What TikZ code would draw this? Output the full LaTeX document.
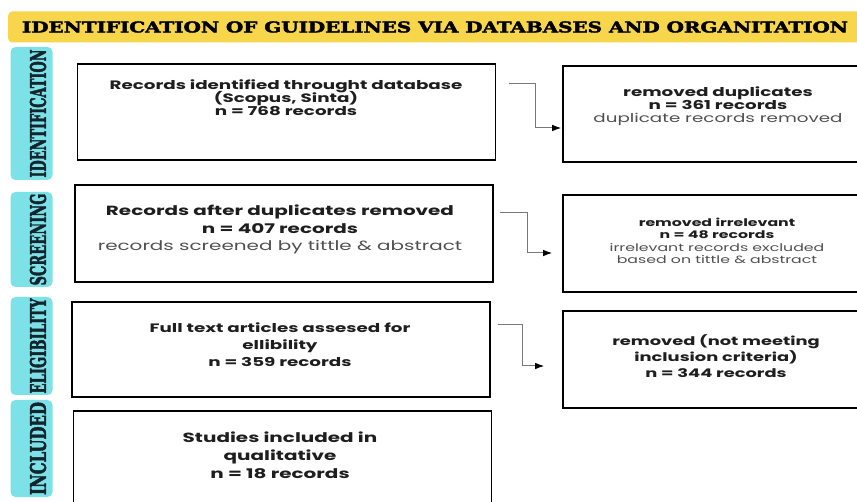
\documentclass[tikz,border=0pt]{standalone}
\usepackage{fontspec}
\usepackage{graphicx}
\usetikzlibrary{arrows.meta, calc}
\newfontfamily\boxfont[FakeStretch=1.5]{Poppins}
\newfontfamily\headfont[BoldFeatures={FakeBold=2.5}]{DejaVu Serif}
\definecolor{bannergold}{RGB}{248,214,76}
\definecolor{tabcyan}{RGB}{125,226,232}
\definecolor{inkdark}{RGB}{30,30,30}
\definecolor{inkgray}{RGB}{80,80,80}
\definecolor{tabink}{RGB}{20,36,44}
\definecolor{linkgray}{RGB}{120,120,120}
\newcommand{\plainline}[1]{{\mdseries\color{inkgray}#1}}
\newcommand{\tightlines}{\setlength{\lineskiplimit}{-20pt}}

\begin{document}
\begin{tikzpicture}[x=1pt, y=-1pt,
  stagebox/.style={draw=black, line width=1.6pt, minimum width=418pt, inner sep=0pt},
  sidebox/.style={draw=black, line width=1.6pt, minimum width=312pt, inner sep=0pt},
  phasetab/.style={fill=tabcyan, rounded corners=5pt, minimum width=42pt, inner sep=0pt},
  tabtxt/.style={text=tabink, rotate=90, inner sep=0pt},
  boxtxt/.style 2 args={font=\boxfont\bfseries\fontsize{#1}{#2}\selectfont\tightlines, text=inkdark, align=center, inner sep=0pt},
  flowlink/.style={draw=linkgray, line width=1pt, -{Latex[color=black, length=9pt, width=6.5pt]}}]

\useasboundingbox (0,0) rectangle (857,502);
\fill[white] (0,0) rectangle (857,502);

% banner
\node[fill=bannergold, rounded corners=4pt, minimum width=880pt, minimum height=31pt, anchor=west] (banner) at (8,27) {};
\node[text=black, inner sep=0pt] (bannertxt) at (435,27)
  {\resizebox{826pt}{11pt}{\headfont\bfseries IDENTIFICATION OF GUIDELINES VIA DATABASES AND ORGANITATION}};

% phase tabs
\node[phasetab, minimum height=133pt] (tabident) at (31.5,113.5) {};
\node[tabtxt] (tabidenttxt) at (38,113.5) {\resizebox{128pt}{16pt}{\headfont\bfseries IDENTIFICATION}};
\node[phasetab, minimum height=95pt] (tabscreen) at (31.5,239.5) {};
\node[tabtxt] (tabscreentxt) at (38,239.5) {\resizebox{92pt}{16pt}{\headfont\bfseries SCREENING}};
\node[phasetab, minimum height=98pt] (tabelig) at (31.5,346) {};
\node[tabtxt] (tabeligtxt) at (38,346) {\resizebox{95pt}{16pt}{\headfont\bfseries ELIGIBILITY}};
\node[phasetab, minimum height=97pt] (tabincl) at (31.5,448.5) {};
\node[tabtxt] (tabincltxt) at (38,448.5) {\resizebox{93pt}{16pt}{\headfont\bfseries INCLUDED}};

% main stages
\node[stagebox, minimum height=96pt] (recid) at (286.5,112) {};
\node[stagebox, minimum height=97pt] (recdup) at (284,233.5) {};
\node[stagebox, minimum height=95pt] (fulltext) at (281,349.5) {};
\node[stagebox, minimum height=108pt] (included) at (282.5,465) {};

\node[boxtxt={12.2}{13}] (recidtxt) at (286,98)
  {Records identified throught database\\(Scopus, Sinta)\\n = 768 records};
\node[boxtxt={13.3}{17.5}] (recduptxt) at (280,229.5)
  {Records after duplicates removed\\n = 407 records\\\plainline{records screened by tittle \& abstract}};
\node[boxtxt={12.2}{17}] (fulltexttxt) at (280,345)
  {Full text articles assesed for\\ellibility\\n = 359 records};
\node[boxtxt={13.3}{18}] (includedtxt) at (280,455)
  {Studies included in\\qualitative\\n = 18 records};

% removed records
\node[sidebox, minimum height=96pt] (remdup) at (719,114) {};
\node[sidebox, minimum height=97pt] (remirr) at (719,243.5) {};
\node[sidebox, minimum height=97pt] (remcrit) at (719,359.5) {};

\node[boxtxt={12.2}{13}] (remduptxt) at (718,106)
  {removed duplicates\\n = 361 records\\\plainline{duplicate records removed}};
\node[boxtxt={10.5}{12.3}] (remirrtxt) at (717,241)
  {removed irrelevant\\n = 48 records\\\plainline{irrelevant records excluded}\\\plainline{based on tittle \& abstract}};
\node[boxtxt={11.9}{16}] (remcrittxt) at (716,356)
  {removed (not meeting\\inclusion criteria)\\n = 344 records};

% links
\draw[flowlink, shorten >=1pt] ($(recid.north east)+(13pt,-20pt)$) -- ++(26pt,0pt) |- ([yshift=-14pt]remdup.west);
\draw[flowlink, shorten >=10pt] ($(recdup.north east)+(6pt,-28pt)$) -- ++(28pt,0pt) |- ([yshift=-9.5pt]remirr.west);
\draw[flowlink, shorten >=18pt] ($(fulltext.north east)+(7pt,-23pt)$) -- ++(25pt,0pt) |- ([yshift=-6.5pt]remcrit.west);

\end{tikzpicture}
\end{document}
